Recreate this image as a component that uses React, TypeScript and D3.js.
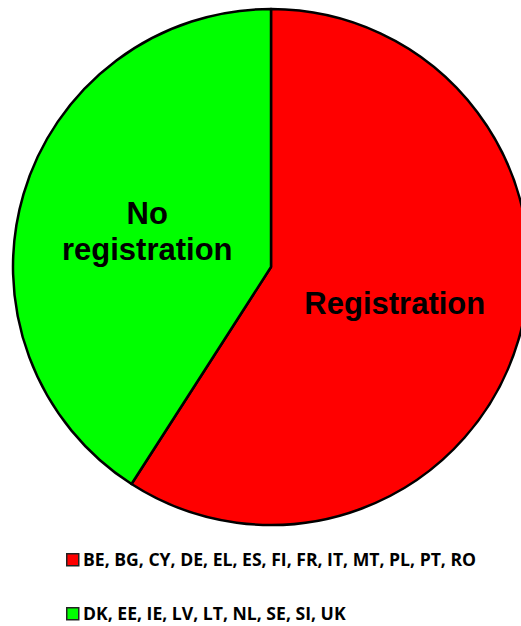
import React from 'react';
import * as d3 from 'd3';

// Categories and counts (number of member states)
const categories = ['Registration', 'No registration'];
const counts = [13, 9];
const sliceLabels = [['Registration'], ['No', 'registration']];
const legendLabels = [
  'BE, BG, CY, DE, EL, ES, FI, FR, IT, MT, PL, PT, RO',
  'DK, EE, IE, LV, LT, NL, SE, SI, UK',
];
const colours = ['#FF0000', '#00FF00'];

const width = 521;
const height = 626;
const cx = 271;
const cy = 267;
const radius = 258;

const App = () => {
  const data = categories.map((c, i) => ({ name: c, value: counts[i], lines: sliceLabels[i] }));

  const pie = d3.pie<any>().sort(null).value(d => d.value);
  const arcs = pie(data);
  const arc = d3.arc<any>().innerRadius(0).outerRadius(radius);

  const colour = d3.scaleOrdinal<string>().domain(categories).range(colours);

  return (
    <svg width={width} height={height} style={{ position: 'absolute', left: 0, top: 0, display: 'block' }}>
      <g transform={`translate(${cx},${cy})`}>
        {arcs.map(a => (
          <path key={a.data.name} d={arc(a) || ''} fill={colour(a.data.name)} stroke="#000" strokeWidth={2.5} strokeLinejoin="round" />
        ))}
        {arcs.map(a => {
          const [x, y] = arc.centroid(a);
          const n = a.data.lines.length;
          return (
            <text key={'l' + a.data.name} x={x} y={y} textAnchor="middle"
              fontFamily="'Liberation Sans', Arial, sans-serif" fontWeight="bold" fontSize={31} fill="#000">
              {a.data.lines.map((t: string, i: number) => (
                <tspan key={i} x={x} dy={i === 0 ? 11 - (n - 1) * 18 : 36}>{t}</tspan>
              ))}
            </text>
          );
        })}
      </g>
      <g>
        {legendLabels.map((t, i) => (
          <g key={t} transform={`translate(66,${553 + i * 54})`}>
            <rect x={0.75} y={0.75} width={12} height={12} fill={colours[i]} stroke="#222" strokeWidth={1.5} />
            <text x={17} y={12.8} fontFamily="'Open Sans', sans-serif" fontWeight="bold" fontSize={17.6} fill="#000">{t}</text>
          </g>
        ))}
      </g>
    </svg>
  );
};

export default App;
